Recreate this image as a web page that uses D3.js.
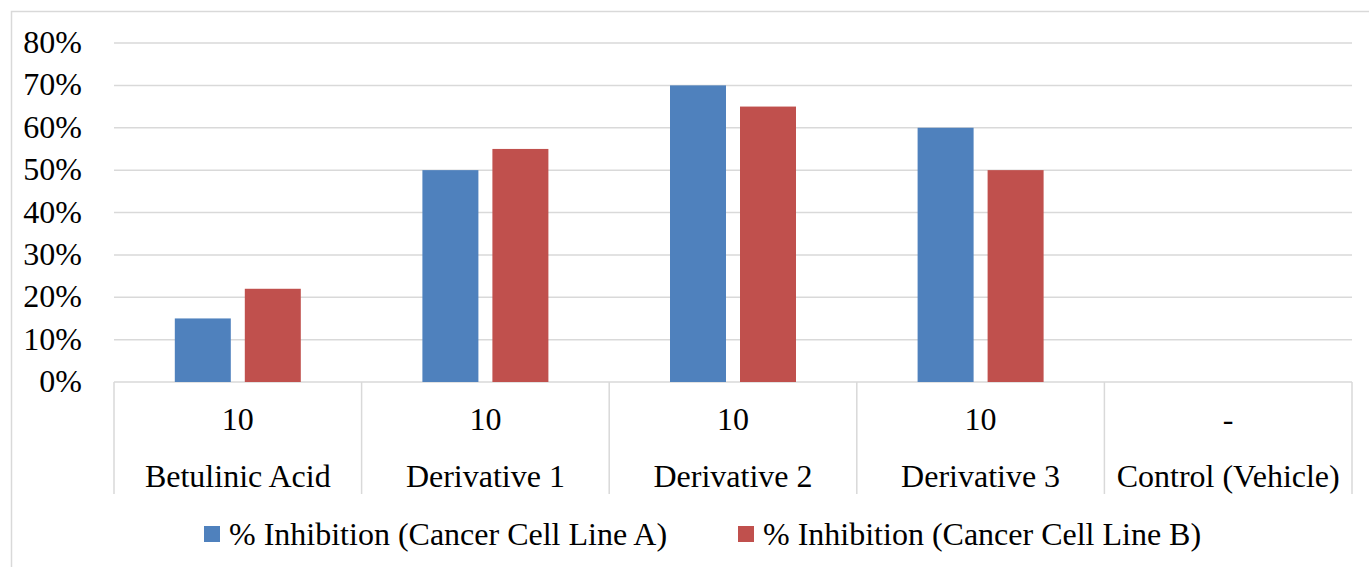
<!DOCTYPE html>
<html>
<head>
<meta charset="utf-8">
<script src="https://cdn.jsdelivr.net/npm/d3@7"></script>
<style>
  body { margin: 0; background: #fff; overflow: hidden; }
  text { font-family: "Liberation Serif", "Times New Roman", serif; fill: #000; }
</style>
</head>
<body>
<script>
// chart data
var compounds = ["Betulinic Acid", "Derivative 1", "Derivative 2", "Derivative 3", "Control (Vehicle)"];
var doses = ["10", "10", "10", "10", "-"];
var lineA = [0.15, 0.50, 0.70, 0.60, 0];
var lineB = [0.22, 0.55, 0.65, 0.50, 0];
var seriesNames = ["% Inhibition (Cancer Cell Line A)", "% Inhibition (Cancer Cell Line B)"];
var colors = ["#4f81bd", "#c0504d"];
var yTicks = [0, 0.1, 0.2, 0.3, 0.4, 0.5, 0.6, 0.7, 0.8];

var W = 1369, H = 567;
var fs = "32px";
var svg = d3.select("body").append("svg").attr("width", W).attr("height", H);

// outer border (right and bottom edges fall outside the picture)
svg.append("rect").attr("x", 11.5).attr("y", 11.5).attr("width", 1400).attr("height", 600)
    .attr("fill", "none").attr("stroke", "#d9d9d9").attr("stroke-width", 1.5);

var pLeft = 114, pRight = 1352, pTop = 43, pBottom = 382;

var x = d3.scaleBand().domain(compounds).range([pLeft, pRight]);
var y = d3.scaleLinear().domain([0, 0.8]).range([pBottom, pTop]);

// gridlines
svg.selectAll("line.grid")
    .data(yTicks)
    .enter()
    .append("line")
    .attr("class", "grid")
    .attr("x1", pLeft).attr("x2", pRight)
    .attr("y1", d => y(d)).attr("y2", d => y(d))
    .attr("stroke", "#d9d9d9").attr("stroke-width", 1.5);

// y labels
svg.selectAll("text.ylab")
    .data(yTicks)
    .enter()
    .append("text")
    .attr("class", "ylab")
    .attr("x", 82).attr("y", d => y(d) + 10)
    .attr("text-anchor", "end")
    .style("font-size", fs)
    .text(d3.format(".0%"));

// bars
var barW = 56, gap = 14;
[lineA, lineB].forEach(function(vals, s) {
    svg.selectAll("rect.s" + s)
        .data(compounds)
        .enter()
        .append("rect")
        .attr("class", "s" + s)
        .attr("x", d => x(d) + x.bandwidth() / 2 + (s == 0 ? -gap / 2 - barW : gap / 2))
        .attr("width", barW)
        .attr("y", (d, i) => y(vals[i]))
        .attr("height", (d, i) => pBottom - y(vals[i]))
        .attr("fill", colors[s]);
});

// category separators
var seps = compounds.map(c => x(c)).concat([pRight]);
svg.selectAll("line.sep")
    .data(seps)
    .enter()
    .append("line")
    .attr("class", "sep")
    .attr("x1", d => d).attr("x2", d => d)
    .attr("y1", pBottom).attr("y2", 494)
    .attr("stroke", "#d9d9d9").attr("stroke-width", 1.5);

// axis labels, two levels
svg.selectAll("text.dose")
    .data(compounds)
    .enter()
    .append("text")
    .attr("class", "dose")
    .attr("x", d => x(d) + x.bandwidth() / 2)
    .attr("y", 430)
    .attr("text-anchor", "middle")
    .style("font-size", fs)
    .text((d, i) => doses[i]);

svg.selectAll("text.cmp")
    .data(compounds)
    .enter()
    .append("text")
    .attr("class", "cmp")
    .attr("x", d => x(d) + x.bandwidth() / 2)
    .attr("y", 487)
    .attr("text-anchor", "middle")
    .style("font-size", fs)
    .text(d => d);

// legend
var legX = [204, 738];
seriesNames.forEach(function(n, i) {
    svg.append("rect").attr("x", legX[i]).attr("y", 526).attr("width", 16).attr("height", 16).attr("fill", colors[i]);
    svg.append("text").attr("x", legX[i] + 25).attr("y", 545).style("font-size", fs).text(n);
});
</script>
</body>
</html>
